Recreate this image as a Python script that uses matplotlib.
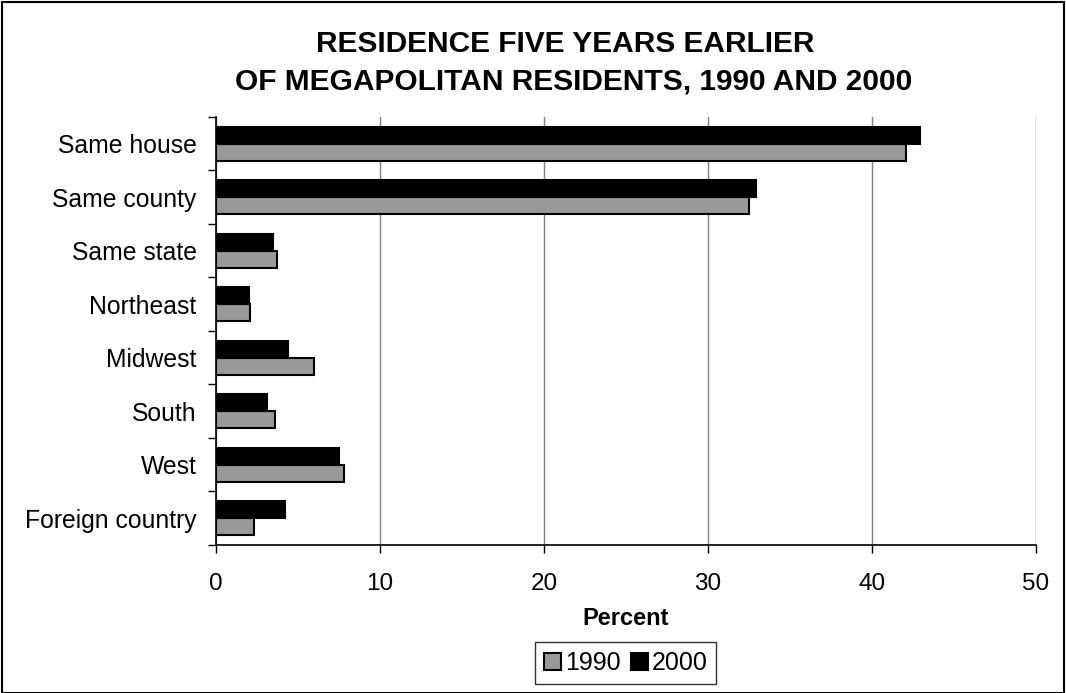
import numpy as np
import matplotlib
matplotlib.use('Agg')
from matplotlib import pyplot as plt
from matplotlib.patches import Rectangle

# residence five years earlier, percent of megapolitan residents
categories = ['Same house', 'Same county', 'Same state', 'Northeast',
              'Midwest', 'South', 'West', 'Foreign country']
pct_1990 = [42.1, 32.5, 3.7, 2.1, 6.0, 3.6, 7.8, 2.3]
pct_2000 = [42.9, 32.9, 3.5, 2.0, 4.4, 3.1, 7.5, 4.2]
xticks = [0, 10, 20, 30, 40, 50]

plt.rcParams['font.family'] = ['Liberation Sans', 'DejaVu Sans']

f = plt.figure(figsize=(10.66, 6.93), dpi=100)
ax = f.add_axes([0.2026, 0.2136, 0.9719 - 0.2026, 0.8312 - 0.2136])

# frame round the whole picture
f.patches.append(Rectangle((0.002, 0.0), 0.996, 0.997, transform=f.transFigure,
                           fill=False, edgecolor='black', linewidth=1.5))

y = np.arange(len(categories))
h = 0.32

ax.barh(y + h / 2, pct_1990, h, color='#999999', edgecolor='black',
        linewidth=1.5, label='1990', zorder=3)
ax.barh(y - h / 2, pct_2000, h, color='black', edgecolor='black',
        linewidth=1.5, label='2000', zorder=3)

ax.set_xlim(0, 50)
ax.set_ylim(len(categories) - 0.5, -0.5)
ax.set_xticks(xticks)
ax.set_xticklabels([str(t) for t in xticks], fontsize=17.5)
ax.tick_params(axis='x', length=6, width=1, pad=14, color='black')

# labels at category centres, ticks at category boundaries
ax.set_yticks(y)
ax.set_yticklabels(categories, fontsize=17.8)
ax.tick_params(axis='y', which='major', length=0, pad=14)
ax.set_yticks(np.arange(-0.5, len(categories) + 0.5, 1), minor=True)
ax.tick_params(axis='y', which='minor', length=6, width=1, color='black')

ax.xaxis.grid(True, color='#808080', linewidth=1, zorder=0)
for s in ['top', 'right']:
    ax.spines[s].set_visible(False)
for s in ['left', 'bottom']:
    ax.spines[s].set_color('black')
    ax.spines[s].set_linewidth(1.2)

ax.set_xlabel('Percent', fontsize=17, fontweight='bold', labelpad=9)

f.text(0.53, 0.937, 'RESIDENCE FIVE YEARS EARLIER', ha='center', va='center',
       fontsize=21.5, fontweight='bold')
f.text(0.538, 0.882, 'OF MEGAPOLITAN RESIDENTS, 1990 AND 2000', ha='center',
       va='center', fontsize=21.5, fontweight='bold')

leg = f.legend(loc='center', bbox_to_anchor=(0.587, 0.043), ncol=2,
               fontsize=18, frameon=True, fancybox=False, edgecolor='black',
               handlelength=0.7, handleheight=0.7, handletextpad=0.15,
               columnspacing=0.4, borderpad=0.35)
leg.get_frame().set_linewidth(1)

f.savefig('out.png', dpi=100)
